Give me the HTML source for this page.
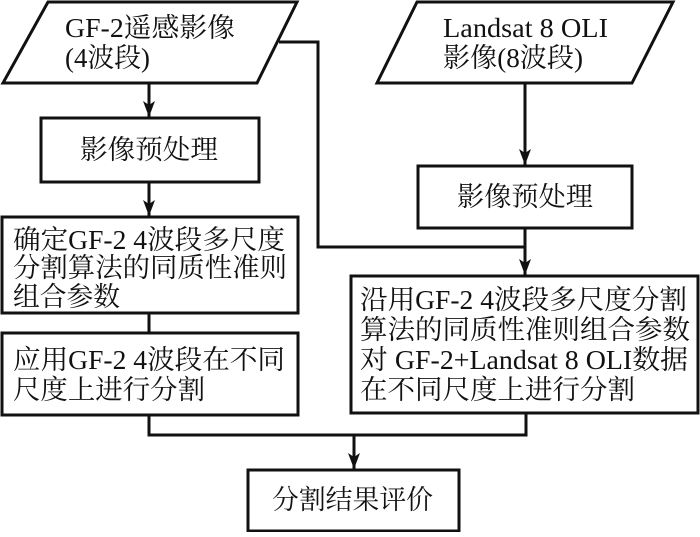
<!DOCTYPE html>
<html><head><meta charset="utf-8"><style>
html,body{margin:0;padding:0;background:#fff}
svg text{font-family:"Liberation Serif","Noto Serif CJK SC","Noto Sans CJK SC",serif;font-size:27px;fill:#111;dominant-baseline:central}
</style></head><body>
<svg width="700" height="532" viewBox="0 0 700 532" xmlns="http://www.w3.org/2000/svg">
<defs>
<marker id="b" markerWidth="12" markerHeight="16" refX="6" refY="16" orient="0" markerUnits="userSpaceOnUse"><path d="M0,0 L6,4 L12,0 L6,16 Z" fill="#111"/></marker></defs>
<g fill="none" stroke="#111" stroke-width="3">
<polygon points="48,2 297,2 257,83 3,83"/>
<polygon points="417,2 673,2 632,83 377,83"/>
<rect x="41" y="118" width="218" height="64"/>
<rect x="418" y="166" width="214" height="62"/>
<rect x="2" y="217" width="296" height="96"/>
<rect x="2" y="333" width="296" height="82"/>
<rect x="351" y="276" width="347" height="137"/>
<rect x="248" y="470" width="211" height="61"/>
<line x1="149" y1="83" x2="149" y2="117" marker-end="url(#b)"/>
<line x1="149" y1="182" x2="149" y2="216" marker-end="url(#b)"/>
<line x1="149" y1="313" x2="149" y2="333"/>
<line x1="525" y1="83" x2="525" y2="165" marker-end="url(#b)"/>
<polyline points="279,42 318,42 318,247 525,247"/>
<line x1="525" y1="228" x2="525" y2="275" marker-end="url(#b)"/>
<polyline points="149,415 149,435 526,435 526,413"/>
<line x1="354" y1="435" x2="354" y2="469" marker-end="url(#b)"/>
</g>
<g lengthAdjust="spacingAndGlyphs">
<text x="65" y="28" textLength="170" lengthAdjust="spacingAndGlyphs">GF-2遥感影像</text>
<text x="65" y="58" textLength="85" lengthAdjust="spacingAndGlyphs">(4波段)</text>
<text x="443" y="28" textLength="165" lengthAdjust="spacingAndGlyphs">Landsat 8 OLI</text>
<text x="443" y="58" textLength="140" lengthAdjust="spacingAndGlyphs">影像(8波段)</text>
<text x="80" y="150" textLength="138" lengthAdjust="spacingAndGlyphs">影像预处理</text>
<text x="457" y="197" textLength="136" lengthAdjust="spacingAndGlyphs">影像预处理</text>
<text x="13" y="240" textLength="272" lengthAdjust="spacingAndGlyphs">确定GF-2 4波段多尺度</text>
<text x="13" y="268" textLength="274" lengthAdjust="spacingAndGlyphs">分割算法的同质性准则</text>
<text x="13" y="297" textLength="107" lengthAdjust="spacingAndGlyphs">组合参数</text>
<text x="13" y="360" textLength="272" lengthAdjust="spacingAndGlyphs">应用GF-2 4波段在不同</text>
<text x="13" y="390" textLength="192" lengthAdjust="spacingAndGlyphs">尺度上进行分割</text>
<text x="360" y="300" textLength="327" lengthAdjust="spacingAndGlyphs">沿用GF-2 4波段多尺度分割</text>
<text x="360" y="330" textLength="330" lengthAdjust="spacingAndGlyphs">算法的同质性准则组合参数</text>
<text x="360" y="360" textLength="328" lengthAdjust="spacingAndGlyphs">对 GF-2+Landsat 8 OLI数据</text>
<text x="360" y="390" textLength="275" lengthAdjust="spacingAndGlyphs">在不同尺度上进行分割</text>
<text x="272" y="500" textLength="161" lengthAdjust="spacingAndGlyphs">分割结果评价</text>
</g>
</svg>
</body></html>
